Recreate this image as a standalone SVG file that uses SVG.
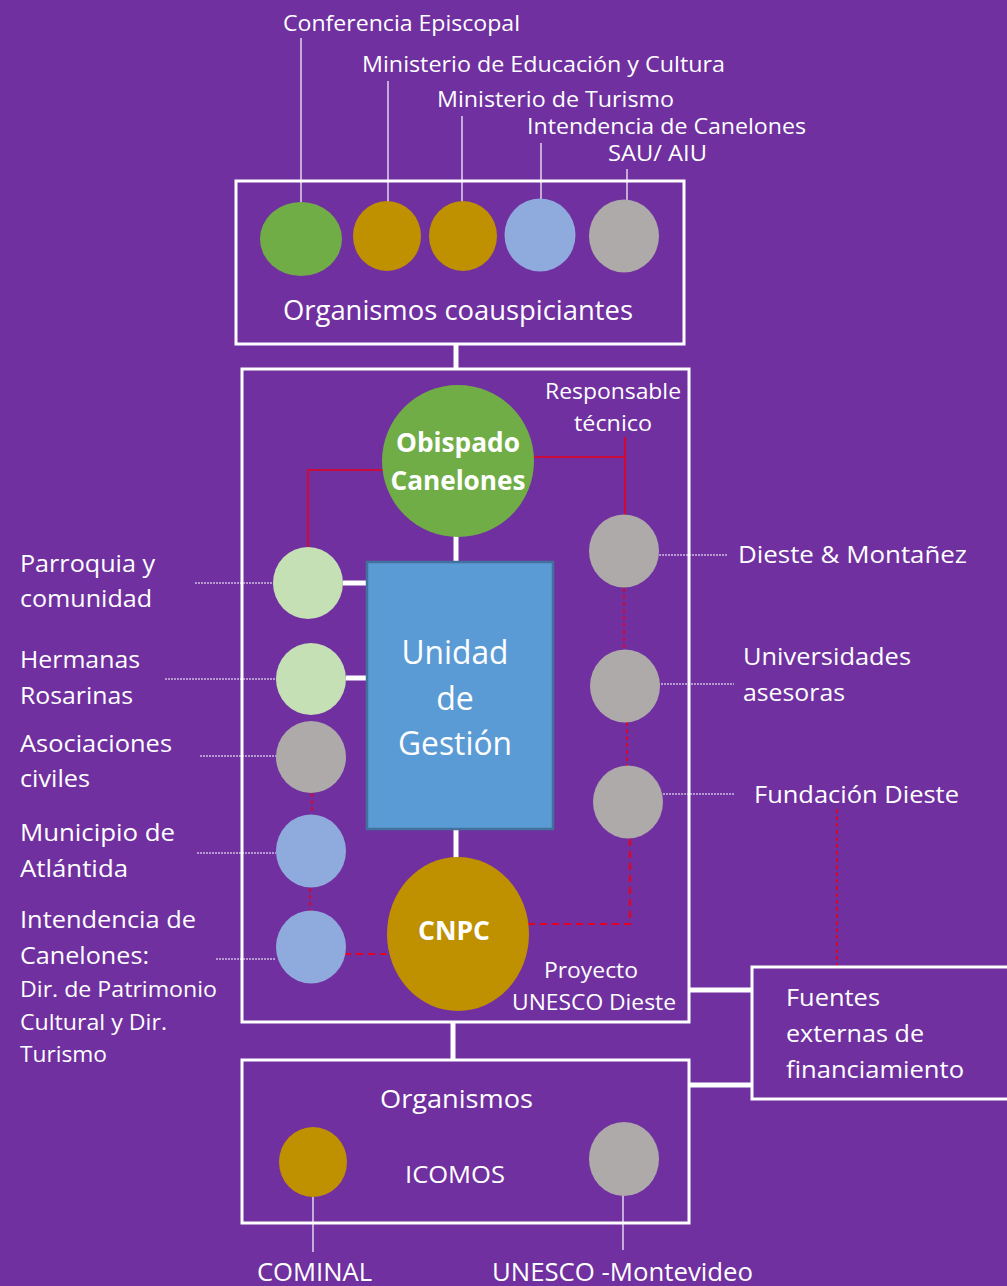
<svg xmlns="http://www.w3.org/2000/svg" width="1007" height="1286" viewBox="0 0 1007 1286">
  <style>
    text { font-family: "Open Sans", "Liberation Sans", sans-serif; fill: #ffffff; }
    .s22 { font-size: 22px; }
    .s23 { font-size: 23px; }
    .s24 { font-size: 24px; }
    .s26 { font-size: 26px; }
    .s27 { font-size: 27px; }
    .s32 { font-size: 32px; }
    .bold { font-weight: bold; font-size: 26px; }
    .frame { fill: none; stroke: #ffffff; stroke-width: 3; }
    .link { stroke: #ffffff; stroke-width: 5; fill: none; }
    .thin { stroke: #ffffff; stroke-width: 1.2; fill: none; }
    .dot { stroke: #ffffff; stroke-width: 1.2; stroke-dasharray: 2 1; fill: none; }
    .red { stroke: #e8001c; stroke-width: 1.6; fill: none; }
    .reddash { stroke: #e8001c; stroke-width: 1.6; stroke-dasharray: 4 3; fill: none; }
    .reddash2 { stroke: #e8001c; stroke-width: 2.2; stroke-dasharray: 7 5; fill: none; }
    .green { fill: #70ad47; }
    .gold { fill: #bf9000; }
    .blue { fill: #8faadc; }
    .grey { fill: #aeaaaa; }
    .pale { fill: #c5e0b4; }
  </style>

  <rect x="0" y="0" width="1007" height="1286" fill="#7030a0"/>

  <!-- connectors -->
  <g id="connectors">
    <!-- leader lines of the co-sponsor row -->
    <line class="thin" x1="301" y1="38" x2="301" y2="202"/>
    <line class="thin" x1="388" y1="81" x2="388" y2="202"/>
    <line class="thin" x1="462" y1="116" x2="462" y2="202"/>
    <line class="thin" x1="541" y1="143" x2="541" y2="199"/>
    <line class="thin" x1="627" y1="169" x2="627" y2="200"/>

    <!-- thick structural links -->
    <line class="link" x1="456" y1="344" x2="456" y2="370"/>
    <line class="link" x1="456" y1="534" x2="456" y2="568"/>
    <line class="link" x1="456" y1="825" x2="456" y2="860"/>
    <line class="link" x1="343" y1="583" x2="367" y2="583"/>
    <line class="link" x1="346" y1="678" x2="367" y2="678"/>
    <line class="link" x1="453" y1="1022" x2="453" y2="1060"/>
    <line class="link" x1="689" y1="990" x2="752" y2="990"/>
    <line class="link" x1="689" y1="1085" x2="752" y2="1085"/>

    <!-- red relations -->
    <polyline class="red" points="383,470 308,470 308,548"/>
    <polyline class="red" points="533,457 625,457"/>
    <line class="red" x1="625" y1="437" x2="625" y2="515"/>
    <line class="reddash" x1="624" y1="588" x2="624" y2="649"/>
    <line class="reddash" x1="627" y1="722" x2="627" y2="766"/>
    <polyline class="reddash2" points="630,839 630,924 527,924"/>
    <line class="reddash" x1="837" y1="809" x2="837" y2="967"/>
    <line class="reddash" x1="312" y1="793" x2="312" y2="814"/>
    <line class="reddash" x1="310" y1="888" x2="310" y2="912"/>
    <line class="reddash2" x1="344" y1="954" x2="386" y2="954"/>

    <!-- dotted label leaders -->
    <line class="dot" x1="195" y1="583" x2="273" y2="583"/>
    <line class="dot" x1="165" y1="679" x2="276" y2="679"/>
    <line class="dot" x1="200" y1="756" x2="276" y2="756"/>
    <line class="dot" x1="197" y1="853" x2="276" y2="853"/>
    <line class="dot" x1="216" y1="959" x2="276" y2="959"/>
    <line class="dot" x1="659" y1="555" x2="728" y2="555"/>
    <line class="dot" x1="658" y1="684" x2="734" y2="684"/>
    <line class="dot" x1="663" y1="794" x2="734" y2="794"/>

    <!-- bottom leaders -->
    <line class="thin" x1="313" y1="1197" x2="313" y2="1252"/>
    <line class="thin" x1="623" y1="1195" x2="623" y2="1250"/>
  </g>

  <!-- co-sponsoring bodies -->
  <g id="coauspiciantes">
    <rect class="frame" x="236" y="181" width="448" height="163"/>
    <ellipse class="green" cx="301" cy="239" rx="41" ry="37"/>
    <ellipse class="gold" cx="387" cy="236" rx="34" ry="35"/>
    <ellipse class="gold" cx="463" cy="236" rx="34" ry="35"/>
    <ellipse class="blue" cx="540" cy="235" rx="35.5" ry="36.5"/>
    <ellipse class="grey" cx="624" cy="236" rx="35" ry="36.5"/>
    <text class="s27" x="283" y="320" textLength="350" lengthAdjust="spacingAndGlyphs">Organismos coauspiciantes</text>
  </g>
  <g id="label-conferencia"><text class="s22" x="283" y="31" textLength="237" lengthAdjust="spacingAndGlyphs">Conferencia Episcopal</text></g>
  <g id="label-mec"><text class="s22" x="362" y="72" textLength="363" lengthAdjust="spacingAndGlyphs">Ministerio de Educación y Cultura</text></g>
  <g id="label-mintur"><text class="s22" x="437" y="107" textLength="237" lengthAdjust="spacingAndGlyphs">Ministerio de Turismo</text></g>
  <g id="label-intendencia-top"><text class="s22" x="527" y="134" textLength="279" lengthAdjust="spacingAndGlyphs">Intendencia de Canelones</text></g>
  <g id="label-sau"><text class="s22" x="608" y="161" textLength="99" lengthAdjust="spacingAndGlyphs">SAU/ AIU</text></g>

  <!-- central project frame -->
  <g id="proyecto">
    <rect class="frame" x="242" y="369" width="447" height="653"/>
    <text class="s22" x="544" y="978" textLength="94" lengthAdjust="spacingAndGlyphs">Proyecto</text>
    <text class="s22" x="512" y="1010" textLength="164" lengthAdjust="spacingAndGlyphs">UNESCO Dieste</text>
  </g>

  <g id="obispado">
    <circle class="green" cx="458" cy="461" r="76"/>
    <text class="bold" x="458" y="452" text-anchor="middle" textLength="124" lengthAdjust="spacingAndGlyphs">Obispado</text>
    <text class="bold" x="458" y="490" text-anchor="middle" textLength="135" lengthAdjust="spacingAndGlyphs">Canelones</text>
  </g>

  <g id="responsable">
    <text class="s22" x="545" y="399" textLength="136" lengthAdjust="spacingAndGlyphs">Responsable</text>
    <text class="s22" x="574" y="431" textLength="78" lengthAdjust="spacingAndGlyphs">técnico</text>
  </g>

  <g id="unidad-gestion">
    <rect x="367" y="562" width="186" height="267" fill="#5b9bd5" stroke="#41719c" stroke-width="2.5"/>
    <text class="s32" x="455" y="664" text-anchor="middle" textLength="107" lengthAdjust="spacingAndGlyphs">Unidad</text>
    <text class="s32" x="455" y="710" text-anchor="middle">de</text>
    <text class="s32" x="455" y="755" text-anchor="middle" textLength="114" lengthAdjust="spacingAndGlyphs">Gestión</text>
  </g>

  <g id="cnpc">
    <ellipse class="gold" cx="458" cy="934" rx="71" ry="77"/>
    <text class="bold" x="454" y="940" text-anchor="middle" textLength="72" lengthAdjust="spacingAndGlyphs">CNPC</text>
  </g>

  <!-- local actors -->
  <g id="parroquia">
    <ellipse class="pale" cx="308" cy="583" rx="35" ry="36"/>
    <text class="s24" x="20" y="572" textLength="135" lengthAdjust="spacingAndGlyphs">Parroquia y</text>
    <text class="s24" x="20" y="607" textLength="132" lengthAdjust="spacingAndGlyphs">comunidad</text>
  </g>
  <g id="hermanas">
    <ellipse class="pale" cx="311" cy="679" rx="35" ry="36"/>
    <text class="s24" x="20" y="668" textLength="120" lengthAdjust="spacingAndGlyphs">Hermanas</text>
    <text class="s24" x="20" y="704" textLength="113" lengthAdjust="spacingAndGlyphs">Rosarinas</text>
  </g>
  <g id="asociaciones">
    <ellipse class="grey" cx="311" cy="757" rx="35" ry="36"/>
    <text class="s24" x="20" y="752" textLength="152" lengthAdjust="spacingAndGlyphs">Asociaciones</text>
    <text class="s24" x="20" y="787" textLength="70" lengthAdjust="spacingAndGlyphs">civiles</text>
  </g>
  <g id="municipio">
    <ellipse class="blue" cx="311" cy="851" rx="35" ry="36.5"/>
    <text class="s24" x="20" y="841" textLength="155" lengthAdjust="spacingAndGlyphs">Municipio de</text>
    <text class="s24" x="20" y="877" textLength="108" lengthAdjust="spacingAndGlyphs">Atlántida</text>
  </g>
  <g id="intendencia">
    <ellipse class="blue" cx="311" cy="947" rx="35" ry="36.5"/>
    <text class="s24" x="20" y="928" textLength="176" lengthAdjust="spacingAndGlyphs">Intendencia de</text>
    <text class="s24" x="20" y="964" textLength="129" lengthAdjust="spacingAndGlyphs">Canelones:</text>
    <text class="s22" x="20" y="997" textLength="197" lengthAdjust="spacingAndGlyphs">Dir. de Patrimonio</text>
    <text class="s22" x="20" y="1030" textLength="147" lengthAdjust="spacingAndGlyphs">Cultural y Dir.</text>
    <text class="s22" x="20" y="1062" textLength="87" lengthAdjust="spacingAndGlyphs">Turismo</text>
  </g>

  <!-- technical advisers -->
  <g id="dieste-montanez">
    <ellipse class="grey" cx="624" cy="551" rx="35" ry="36.5"/>
    <text class="s23" x="738" y="563" textLength="229" lengthAdjust="spacingAndGlyphs">Dieste &amp; Montañez</text>
  </g>
  <g id="universidades">
    <ellipse class="grey" cx="625" cy="686" rx="35" ry="36.5"/>
    <text class="s23" x="743" y="665" textLength="168" lengthAdjust="spacingAndGlyphs">Universidades</text>
    <text class="s23" x="743" y="701" textLength="102" lengthAdjust="spacingAndGlyphs">asesoras</text>
  </g>
  <g id="fundacion">
    <ellipse class="grey" cx="628" cy="802" rx="35" ry="36.5"/>
    <text class="s23" x="754" y="803" textLength="205" lengthAdjust="spacingAndGlyphs">Fundación Dieste</text>
  </g>

  <!-- external funding -->
  <g id="fuentes">
    <rect class="frame" x="752" y="967" width="258" height="132"/>
    <text class="s24" x="786" y="1006" textLength="94" lengthAdjust="spacingAndGlyphs">Fuentes</text>
    <text class="s24" x="786" y="1042" textLength="138" lengthAdjust="spacingAndGlyphs">externas de</text>
    <text class="s24" x="786" y="1078" textLength="178" lengthAdjust="spacingAndGlyphs">financiamiento</text>
  </g>

  <!-- international bodies -->
  <g id="organismos">
    <rect class="frame" x="242" y="1060" width="447" height="163"/>
    <text class="s26" x="380" y="1108" textLength="153" lengthAdjust="spacingAndGlyphs">Organismos</text>
    <text class="s24" x="405" y="1183" textLength="100" lengthAdjust="spacingAndGlyphs">ICOMOS</text>
  </g>
  <g id="cominal">
    <ellipse class="gold" cx="313" cy="1162" rx="34" ry="35"/>
    <text class="s26" x="257" y="1281" textLength="115" lengthAdjust="spacingAndGlyphs">COMINAL</text>
  </g>
  <g id="unesco-montevideo">
    <ellipse class="grey" cx="624" cy="1159" rx="35" ry="37"/>
    <text class="s26" x="492" y="1281" textLength="261" lengthAdjust="spacingAndGlyphs">UNESCO -Montevideo</text>
  </g>
</svg>
